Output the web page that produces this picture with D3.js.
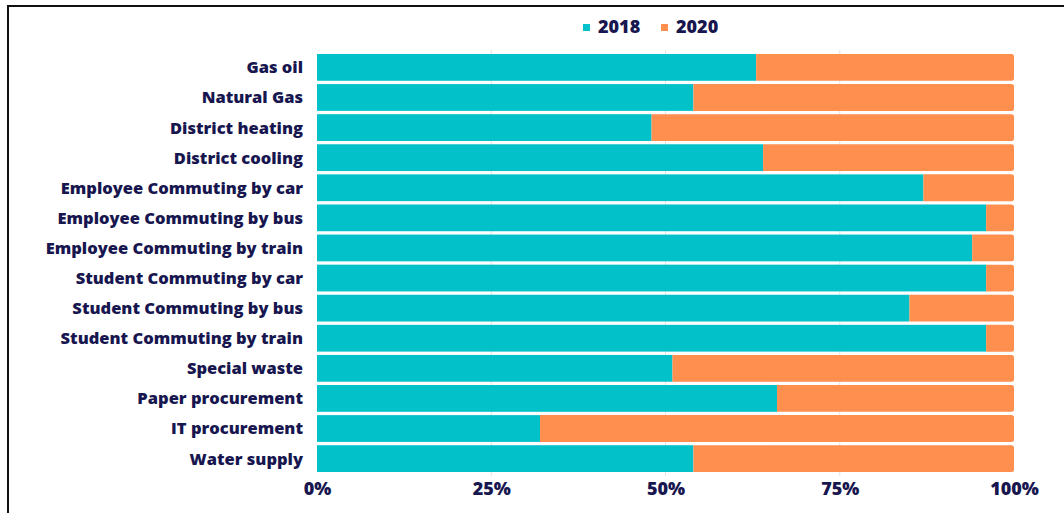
<!DOCTYPE html>
<html>
<head>
<meta charset="utf-8">
<script src="https://cdn.jsdelivr.net/npm/d3@7"></script>
<style>
  html, body { margin: 0; padding: 0; background: #ffffff; }
  svg { display: block; }
  text { font-family: "Open Sans", "Lato", sans-serif; font-weight: 800; fill: #17164f; }
</style>
</head>
<body>
<svg id="chart" width="1064" height="513"></svg>
<script>
// Share of each emission source by year (percent of the combined total)
const categories = [
  "Gas oil", "Natural Gas", "District heating", "District cooling",
  "Employee Commuting by car", "Employee Commuting by bus", "Employee Commuting by train",
  "Student Commuting by car", "Student Commuting by bus", "Student Commuting by train",
  "Special waste", "Paper procurement", "IT procurement", "Water supply"
];
const share2018 = [63, 54, 48, 64, 87, 96, 94, 96, 85, 96, 51, 66, 32, 54];
const share2020 = share2018.map(v => 100 - v);
const seriesNames = ["2018", "2020"];
const tickValues = [0, 25, 50, 75, 100];

const colors = { "2018": "#02c1c9", "2020": "#ff8f4f" };

const svg = d3.select("#chart");
const W = 1064, H = 513;

// outer frame
svg.append("rect")
  .attr("x", 8).attr("y", 6)
  .attr("width", W + 20).attr("height", H + 20)
  .attr("fill", "none").attr("stroke", "#111").attr("stroke-width", 2);

const x = d3.scaleLinear().domain([0, 100]).range([317, 1014]);
const y = d3.scaleBand().domain(categories).range([54, 472]).paddingInner(0.11).paddingOuter(0);

// faint vertical gridlines
svg.append("g").selectAll("line")
  .data(tickValues.slice(1, 4))
  .join("line")
  .attr("x1", d => x(d)).attr("x2", d => x(d))
  .attr("y1", 50).attr("y2", 476)
  .attr("stroke", "#e4e4e4").attr("stroke-width", 1);

const rows = categories.map((c, i) => ({ cat: c, a: share2018[i], b: share2020[i] }));

// 2018 segment
svg.append("g").selectAll("rect")
  .data(rows)
  .join("rect")
  .attr("x", x(0))
  .attr("y", d => y(d.cat))
  .attr("width", d => x(d.a) - x(0))
  .attr("height", y.bandwidth())
  .attr("fill", colors["2018"]);

// 2020 segment, stacked after 2018 with rounded right end
const r = 2.5;
svg.append("g").selectAll("path")
  .data(rows)
  .join("path")
  .attr("d", d => {
    const x0 = x(d.a), x1 = x(d.a + d.b);
    const y0 = y(d.cat), y1 = y0 + y.bandwidth();
    return `M${x0},${y0}H${x1 - r}Q${x1},${y0} ${x1},${y0 + r}V${y1 - r}Q${x1},${y1} ${x1 - r},${y1}H${x0}Z`;
  })
  .attr("fill", colors["2020"]);

// category labels
svg.append("g").selectAll("text")
  .data(categories)
  .join("text")
  .attr("x", 303)
  .attr("y", d => y(d) + y.bandwidth() / 2)
  .attr("dy", "0.36em")
  .attr("text-anchor", "end")
  .attr("font-size", 16.5)
  .text(d => d);

// bottom axis tick labels
const xAxis = d3.axisBottom(x)
  .tickValues(tickValues)
  .tickFormat(d => d + "%")
  .tickSize(0)
  .tickPadding(0);
const ax = svg.append("g").attr("transform", "translate(0,482)").call(xAxis);
ax.select(".domain").remove();
ax.selectAll("text")
  .attr("font-size", 18)
  .attr("font-family", null)
  .attr("fill", null);

// legend
const legendX = [583, 661];
const lg = svg.append("g").selectAll("g")
  .data(seriesNames)
  .join("g")
  .attr("transform", (d, i) => `translate(${legendX[i]},27)`);
lg.append("rect")
  .attr("x", 0).attr("y", -3)
  .attr("width", 7).attr("height", 7)
  .attr("fill", d => colors[d]);
lg.append("text")
  .attr("x", 15)
  .attr("dy", "0.36em")
  .attr("font-size", 18)
  .text(d => d);
</script>
</body>
</html>
